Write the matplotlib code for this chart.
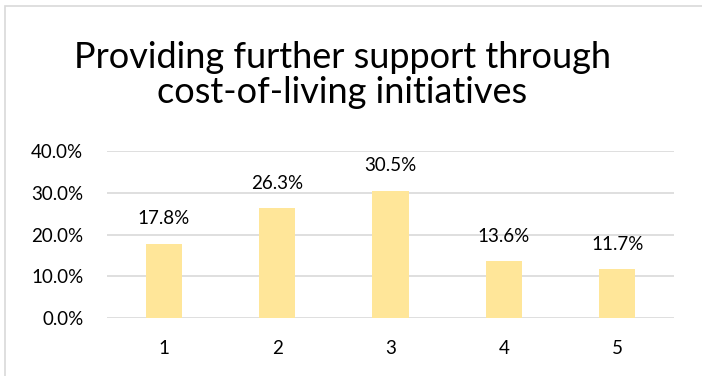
import matplotlib.pyplot as plt
from matplotlib.patches import Rectangle

# survey response shares per rating
categories = ['1', '2', '3', '4', '5']
shares = [0.178, 0.263, 0.305, 0.136, 0.117]
yticks = [0.0, 0.1, 0.2, 0.3, 0.4]

plt.rcParams['font.family'] = ['Lato', 'DejaVu Sans']

W, H = 702, 376
fig = plt.figure(figsize=(W / 100, H / 100), dpi=100)

# chart frame
fig.patches.append(Rectangle((5 / W, -0.1), 1.2, (H - 6) / H + 0.1,
                             transform=fig.transFigure, fill=False,
                             edgecolor='#d9d9d9', lw=1.2))

ax = fig.add_axes([107 / W, 58 / H, (674 - 107) / W, (225 - 58) / H])
x = range(len(categories))
bars = ax.bar(x, shares, width=0.32, color='#ffe699', zorder=2)

for b, v in zip(bars, shares):
    ax.annotate(f'{v * 100:.1f}%', (b.get_x() + b.get_width() / 2, v),
                xytext=(0, 18), textcoords='offset points',
                ha='center', va='center', fontsize=13.5, color='#000000')

ax.set_xlim(-0.5, len(categories) - 0.5)
ax.set_ylim(0, 0.4)
ax.set_xticks(list(x))
ax.set_xticklabels(categories)
ax.set_yticks(yticks)
ax.set_yticklabels([f'{t * 100:.1f}%' for t in yticks])
ax.tick_params(axis='both', length=0, labelsize=13.5, colors='#000000')
ax.tick_params(axis='y', pad=17)
ax.tick_params(axis='x', pad=16)
ax.grid(axis='y', color='#d9d9d9', lw=1.2, zorder=1)
for s in ax.spines.values():
    s.set_visible(False)

fig.text(342 / W, 1 - 68 / H, 'Providing further support through',
         ha='center', va='baseline', fontsize=26)
fig.text(342 / W, 1 - 103 / H, 'cost-of-living initiatives',
         ha='center', va='baseline', fontsize=26)

fig.savefig('out.png', dpi=100)
